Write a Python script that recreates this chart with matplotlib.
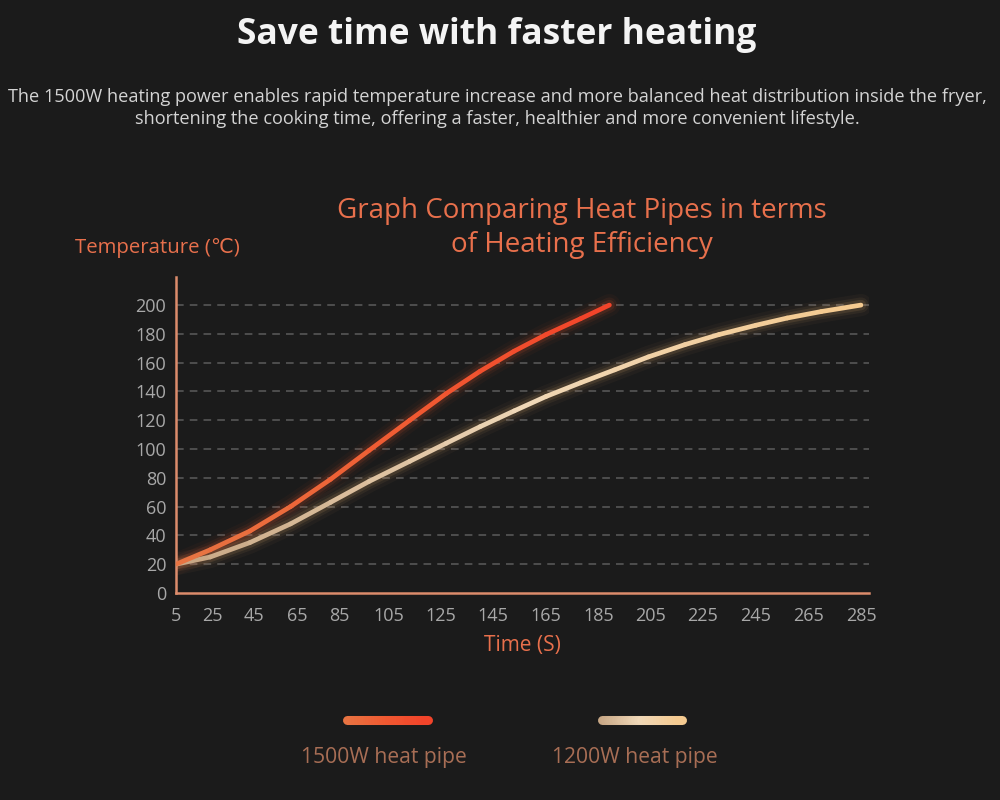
import numpy as np
import matplotlib
matplotlib.use("Agg")
import matplotlib.pyplot as plt
from matplotlib.collections import LineCollection
from matplotlib.colors import LinearSegmentedColormap

# ==========================================================
# DATA
# ==========================================================

time_ticks = [5, 25, 45, 65, 85, 105, 125, 145, 165, 185, 205, 225, 245, 265, 285]
temp_ticks = [0, 20, 40, 60, 80, 100, 120, 140, 160, 180, 200]

t_1500 = [5, 24, 43, 62, 81, 97, 113, 127, 140, 153, 165, 178, 189]
y_1500 = [20, 30, 43, 60, 79, 99, 120, 138.5, 154, 168, 179.5, 190.5, 200]

t_1200 = [5, 24, 43, 62, 81, 97, 113, 127, 140, 153, 165, 178, 191, 204,
          218, 231, 245, 257, 270, 285]
y_1200 = [20, 25, 35, 48, 63, 77.5, 91.5, 104, 115.5, 126.5, 136.5, 146, 155, 164,
          172.5, 179.5, 186, 191, 195.5, 200]

series_names = ["1500W heat pipe", "1200W heat pipe"]

# ==========================================================
# STYLE / LAYOUT
# ==========================================================

BG = "#1b1b1b"
ORANGE = "#e8704c"
TICK_GREY = "#a8a8a8"
SPINE = "#dc8c6c"
GRID = "#5c5c5c"
LEGEND_TXT = "#a86e55"

# pixel positions of the x ticks in the picture (the axis is not uniform)
TICK_PX = np.array([176, 212, 254, 297, 339, 389, 441, 493, 546, 599, 651, 703, 756, 808, 861], float)
TV = np.array(time_ticks, float)

def fwd(t):
    t = np.asarray(t, float)
    y = np.interp(t, TV, TICK_PX)
    hi = TICK_PX[-1] + (t - TV[-1]) * (TICK_PX[-1] - TICK_PX[-2]) / 20
    lo = TICK_PX[0] + (t - TV[0]) * (TICK_PX[1] - TICK_PX[0]) / 20
    return np.where(t > TV[-1], hi, np.where(t < TV[0], lo, y))

def inv(p):
    p = np.asarray(p, float)
    y = np.interp(p, TICK_PX, TV)
    hi = TV[-1] + (p - TICK_PX[-1]) * 20 / (TICK_PX[-1] - TICK_PX[-2])
    lo = TV[0] + (p - TICK_PX[0]) * 20 / (TICK_PX[1] - TICK_PX[0])
    return np.where(p > TICK_PX[-1], hi, np.where(p < TICK_PX[0], lo, y))

plt.rcParams['font.family'] = ['Open Sans', 'DejaVu Sans']

W, H = 1000, 800
fig = plt.figure(figsize=(10, 8), dpi=100, facecolor=BG)

# axes box: x 176..869 px, y 277..593 px
ax = fig.add_axes([176 / W, 1 - 593 / H, (869 - 176) / W, (593 - 277) / H])
ax.set_facecolor(BG)
ax.set_xscale("function", functions=(fwd, inv))
ax.set_xlim(5, float(inv(869)))
ax.set_ylim(0, 219.5)

for s in ["top", "right"]:
    ax.spines[s].set_visible(False)
for s in ["left", "bottom"]:
    ax.spines[s].set_color(SPINE)
    ax.spines[s].set_linewidth(1.8)

ax.set_xticks(time_ticks)
ax.set_xticklabels([str(v) for v in time_ticks])
ax.set_yticks(temp_ticks)
ax.tick_params(colors=TICK_GREY, labelsize=13, length=0, pad=7)
ax.tick_params(axis="x", pad=10)

for v in temp_ticks[1:]:
    ax.axhline(v, color=GRID, lw=1.1, ls=(0, (5, 4)), zorder=1)

# ==========================================================
# CURVES (glow + gradient line)
# ==========================================================

cmap_red = LinearSegmentedColormap.from_list("red", ["#e87442", "#f05a32", "#f2442a"])
cmap_beige = LinearSegmentedColormap.from_list("beige", ["#c8a886", "#f0d8b8", "#f4ca90"])

def glow_line(t, y, cmap, glow_col):
    for lw, a in [(16, 0.04), (11, 0.07), (7.5, 0.12)]:
        ax.plot(t, y, color=glow_col, lw=lw, alpha=a, solid_capstyle="round",
                solid_joinstyle="round", zorder=2)
    pts = np.column_stack([t, y])
    segs = np.stack([pts[:-1], pts[1:]], axis=1)
    lc = LineCollection(segs, cmap=cmap, linewidths=3.4, capstyle="round",
                        joinstyle="round", zorder=3)
    lc.set_array(np.linspace(0, 1, len(segs)))
    ax.add_collection(lc)

glow_line(t_1200, y_1200, cmap_beige, "#e8b070")
glow_line(t_1500, y_1500, cmap_red, "#f05a30")

# ==========================================================
# TEXTS
# ==========================================================

fig.text(0.497, 1 - 35 / H, "Save time with faster heating", ha="center", va="center",
         color="#f4f4f4", fontsize=25.5, fontweight="bold")
fig.text(0.497, 1 - 108 / H,
         "The 1500W heating power enables rapid temperature increase and more balanced heat distribution inside the fryer,\n"
         "shortening the cooking time, offering a faster, healthier and more convenient lifestyle.",
         ha="center", va="center", color="#d4d4d4", fontsize=13.1, linespacing=1.22)
fig.text(0.582, 1 - 228 / H, "Graph Comparing Heat Pipes in terms\nof Heating Efficiency",
         ha="center", va="center", color=ORANGE, fontsize=20, linespacing=1.25)
fig.text(0.1575, 1 - 248 / H, "Temperature (℃)", ha="center", va="center",
         color=ORANGE, fontsize=14.7)
fig.text(0.5225, 1 - 646 / H, "Time (S)", ha="center", va="center",
         color=ORANGE, fontsize=15)

# ==========================================================
# LEGEND
# ==========================================================

legend_cmaps = [cmap_red, cmap_beige]
legend_x = [(347, 428), (602, 682)]
legend_lbl_x = [384, 635]
for name, cm, (x0, x1), lx in zip(series_names, legend_cmaps, legend_x, legend_lbl_x):
    xs = np.linspace(x0, x1, 30) / W
    ys = np.full_like(xs, 1 - 720 / H)
    pts = np.column_stack([xs, ys])
    segs = np.stack([pts[:-1], pts[1:]], axis=1)
    lc = LineCollection(segs, cmap=cm, linewidths=6.5, capstyle="round",
                        transform=fig.transFigure)
    lc.set_array(np.linspace(0, 1, len(segs)))
    fig.add_artist(lc)
    fig.text(lx / W, 1 - 757 / H, name, ha="center", va="center",
             color=LEGEND_TXT, fontsize=15.2)

fig.savefig("out.png", dpi=100, facecolor=BG)
